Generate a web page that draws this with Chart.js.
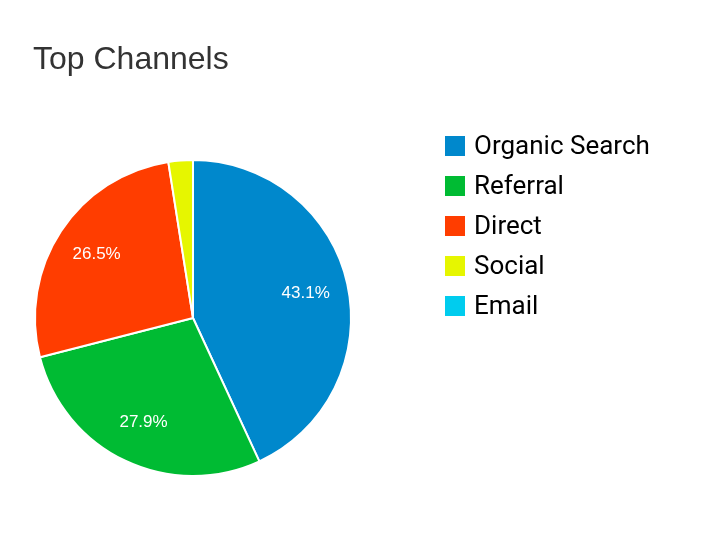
<!DOCTYPE html>
<html>
<head>
<meta charset="utf-8">
<script src="https://cdn.jsdelivr.net/npm/chart.js@4.4.1/dist/chart.umd.min.js"></script>
<style>
  html, body { margin: 0; padding: 0; background: #fff; }
  #wrap { position: relative; width: 721px; height: 560px; }
</style>
</head>
<body>
<div id="wrap"><canvas id="chart" width="721" height="560"></canvas></div>
<script>
const channels = ['Organic Search', 'Referral', 'Direct', 'Social', 'Email'];
const shares = [43.1, 27.9, 26.5, 2.5, 0];
const colors = ['#0088cc', '#00bb33', '#ff3d00', '#e6f600', '#00ccee'];
const chartTitle = 'Top Channels';

// title, right-hand legend and in-slice percentages
const decorations = {
    id: 'decorations',
    afterDraw(chart) {
        const ctx = chart.ctx;
        ctx.save();
        ctx.fillStyle = '#333333';
        ctx.font = '32px "Liberation Sans", Arial, sans-serif';
        ctx.textBaseline = 'middle';
        ctx.textAlign = 'left';
        ctx.fillText(chartTitle, 33, 60);

        const labels = chart.data.labels;
        const bg = chart.data.datasets[0].backgroundColor;
        ctx.font = '26px Roboto, sans-serif';
        labels.forEach((lab, i) => {
            const y = 146 + i * 40;
            ctx.fillStyle = bg[i];
            ctx.fillRect(445, y - 10, 20, 20);
            ctx.fillStyle = '#000000';
            ctx.fillText(lab, 474, y + 1);
        });

        const meta = chart.getDatasetMeta(0);
        ctx.fillStyle = '#ffffff';
        ctx.font = '17px "Liberation Sans", Arial, sans-serif';
        ctx.textAlign = 'center';
        meta.data.forEach((arc, i) => {
            const v = chart.data.datasets[0].data[i];
            if (v < 5) return;
            const p = arc.getProps(['x', 'y', 'startAngle', 'endAngle', 'outerRadius'], true);
            const mid = (p.startAngle + p.endAngle) / 2;
            const r = p.outerRadius * 0.73;
            ctx.fillText(v.toFixed(1) + '%', p.x + Math.cos(mid) * r, p.y + Math.sin(mid) * r);
        });
        ctx.restore();
    }
};

new Chart(document.getElementById('chart'), {
    type: 'pie',
    data: {
        labels: channels,
        datasets: [{
            data: shares,
            backgroundColor: colors,
            borderColor: '#ffffff',
            borderWidth: 2
        }]
    },
    options: {
        responsive: false,
        animation: false,
        layout: { padding: { left: 34, right: 369, top: 159, bottom: 83 } },
        plugins: {
            legend: { display: false },
            title: { display: false },
            tooltip: { enabled: false }
        }
    },
    plugins: [decorations]
});
</script>
</body>
</html>
